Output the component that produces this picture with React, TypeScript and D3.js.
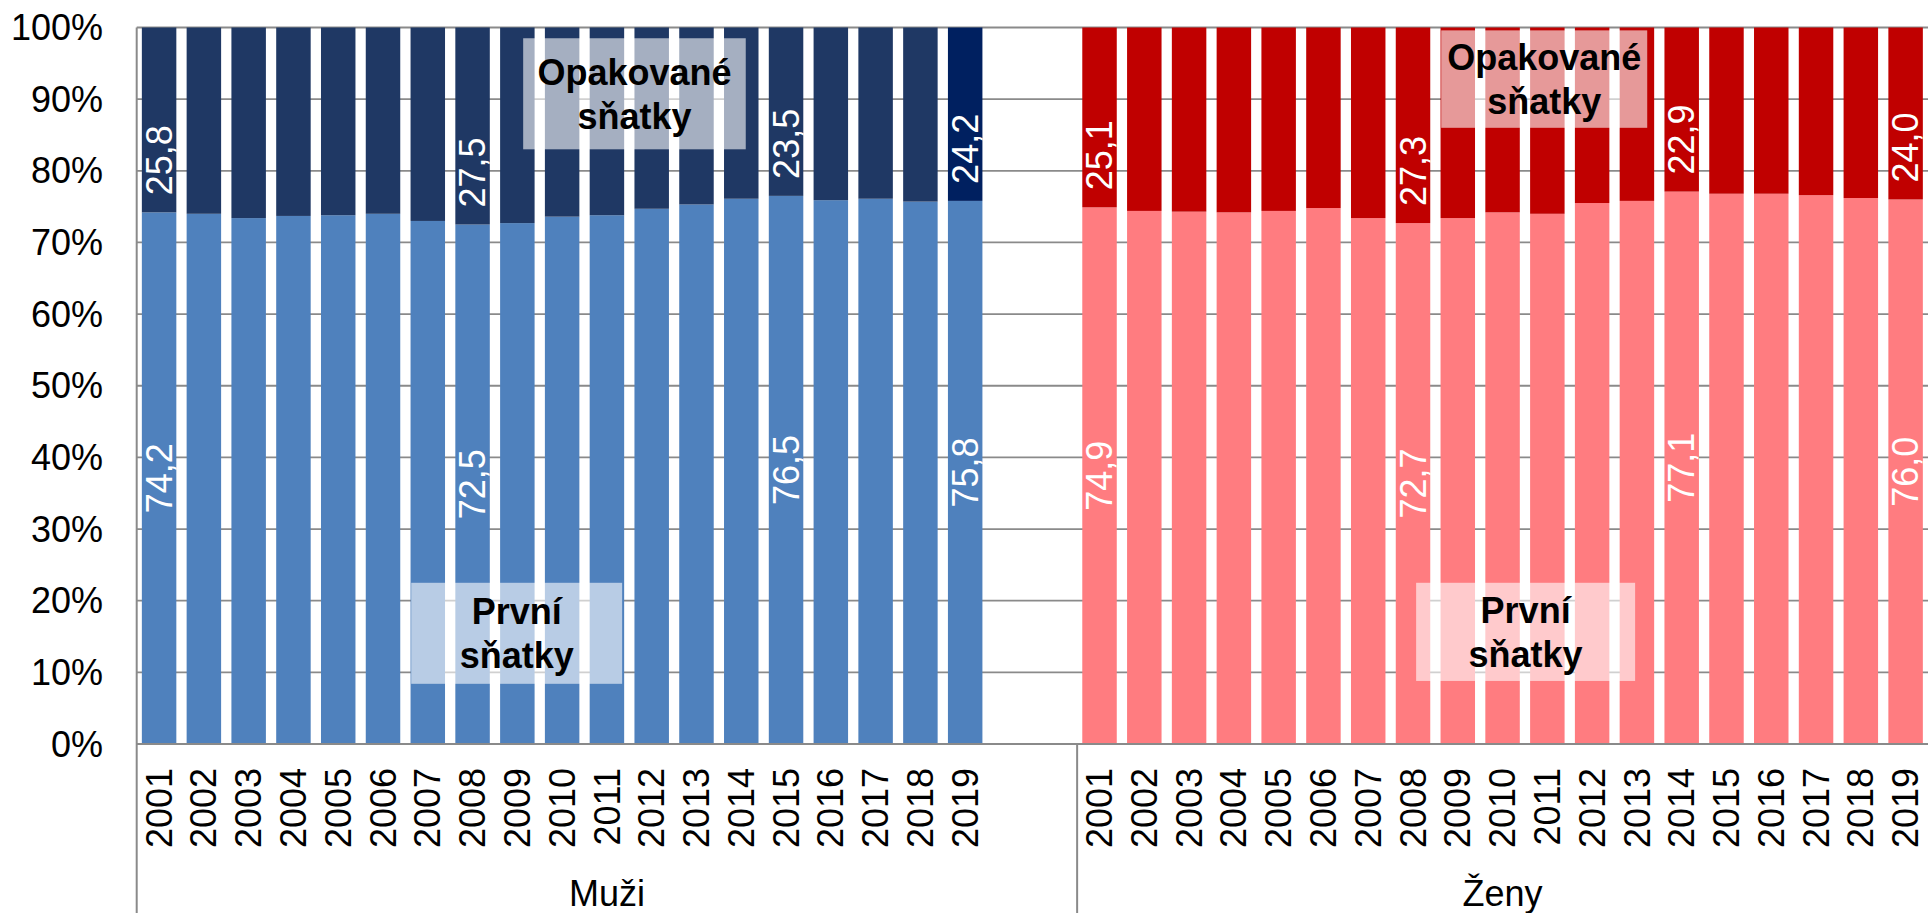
import React from 'react'
import * as d3 from 'd3'

// chart data (shares in %)
const years = ['2001', '2002', '2003', '2004', '2005', '2006', '2007', '2008', '2009', '2010',
  '2011', '2012', '2013', '2014', '2015', '2016', '2017', '2018', '2019']

const menFirst = [74.2, 74.0, 73.4, 73.7, 73.8, 74.0, 73.0, 72.5, 72.7, 73.6, 73.8, 74.7, 75.3, 76.1, 76.5, 75.9, 76.1, 75.7, 75.8]
const menRepeated = [25.8, 26.0, 26.6, 26.3, 26.2, 26.0, 27.0, 27.5, 27.3, 26.4, 26.2, 25.3, 24.7, 23.9, 23.5, 24.1, 23.9, 24.3, 24.2]
const womenFirst = [74.9, 74.4, 74.3, 74.2, 74.4, 74.8, 73.4, 72.7, 73.4, 74.2, 74.0, 75.5, 75.8, 77.1, 76.8, 76.8, 76.6, 76.2, 76.0]
const womenRepeated = [25.1, 25.6, 25.7, 25.8, 25.6, 25.2, 26.6, 27.3, 26.6, 25.8, 26.0, 24.5, 24.2, 22.9, 23.2, 23.2, 23.4, 23.8, 24.0]

const groups = ['Muži', 'Ženy']
const menLabelled = ['2001', '2008', '2015', '2019']
const womenLabelled = ['2001', '2008', '2014', '2019']
const yTicks = [0, 10, 20, 30, 40, 50, 60, 70, 80, 90, 100]

// annotation boxes: x in category index units, y in %
const notes = [
  { lines: ['Opakované', 'sňatky'], x0: 8.63, x1: 13.6, y0: 83.0, y1: 98.5 },
  { lines: ['První', 'sňatky'], x0: 6.13, x1: 10.84, y0: 8.4, y1: 22.5 },
  { lines: ['Opakované', 'sňatky'], x0: 29.13, x1: 33.73, y0: 86.0, y1: 99.6 },
  { lines: ['První', 'sňatky'], x0: 28.57, x1: 33.46, y0: 8.8, y1: 22.5 },
]

const W = 1928
const H = 913
const left = 136.7
const right = 1928
const top = 27.5
const bottom = 744
const font = 'Liberation Sans, Arial, sans-serif'

export default function App() {
  // 21 slots for men (two empty), 19 for women
  const keys = [
    ...years.map(y => 'M' + y), 'M_gap1', 'M_gap2',
    ...years.map(y => 'Z' + y),
  ]
  const x = d3.scaleBand<string>()
    .domain(keys)
    .range([left, right])
    .paddingInner(0.23)
    .paddingOuter(0.115)
  const step = x.step()
  const bw = x.bandwidth()
  const y = d3.scaleLinear().domain([0, 100]).range([bottom, top])

  const rows = years.map((yr, i) => ({ key: yr, first: menFirst[i], repeated: menRepeated[i] }))
  const rowsW = years.map((yr, i) => ({ key: yr, first: womenFirst[i], repeated: womenRepeated[i] }))
  const stack = d3.stack<any>().keys(['first', 'repeated'])
  const sm = stack(rows)
  const sw = stack(rowsW)

  const series = [
    { prefix: 'M', s: sm, colors: ['#4F81BD', '#1F3864'], last: '#002060', labelled: menLabelled },
    { prefix: 'Z', s: sw, colors: ['#FF7C80', '#C00000'], last: '#C00000', labelled: womenLabelled },
  ]

  const sepX = x('Z2001')! - (step - bw) / 2
  const groupCenters = [(left + sepX) / 2, (sepX + right) / 2]

  return (
    <svg width={W} height={H} style={{ position: 'absolute', left: 0, top: 0, background: '#fff' }}
      fontFamily={font}>
      {/* gridlines */}
      {yTicks.map(t => (
        <line key={'g' + t} x1={left} x2={right} y1={y(t)} y2={y(t)} stroke="#8a8a8a" strokeWidth={1.8} />
      ))}
      {/* bars */}
      {series.map(g => g.s.map((layer, li) => layer.map((d, i) => {
        const k = g.prefix + years[i]
        const fill = li === 1 && i === years.length - 1 ? g.last : g.colors[li]
        return (
          <rect key={k + li} x={x(k)} width={bw} y={y(d[1])} height={y(d[0]) - y(d[1])} fill={fill} />
        )
      })))}
      {/* value labels */}
      {series.map(g => g.s.map((layer, li) => layer.map((d, i) => {
        const yr = years[i]
        if (!g.labelled.includes(yr)) return null
        const k = g.prefix + yr
        const cx = x(k)! + bw / 2
        const v = d[1] - d[0]
        const txt = v.toFixed(1).replace('.', ',')
        if (li === 0) {
          const cy = y((d[0] + d[1]) / 2)
          return (
            <text key={'l' + k + li} transform={`translate(${cx},${cy}) rotate(-90)`} textAnchor="middle"
              dy="0.35em" fill="#fff" fontSize={36}>{txt}</text>
          )
        }
        const by = y(d[0]) - 17
        return (
          <text key={'l' + k + li} transform={`translate(${cx},${by}) rotate(-90)`} textAnchor="start"
            dy="0.35em" fill="#fff" fontSize={36}>{txt}</text>
        )
      })))}
      {/* annotation boxes */}
      {notes.map((n, i) => {
        const bx0 = left + n.x0 * step
        const bx1 = left + n.x1 * step
        const by0 = y(n.y1)
        const by1 = y(n.y0)
        const cx = (bx0 + bx1) / 2
        const cy = (by0 + by1) / 2
        return (
          <g key={'n' + i}>
            <rect x={bx0} y={by0} width={bx1 - bx0} height={by1 - by0} fill="#fff" fillOpacity={0.6} />
            <text x={cx} y={cy - 9} textAnchor="middle" fontWeight="bold" fontSize={36} fill="#000">{n.lines[0]}</text>
            <text x={cx} y={cy + 35} textAnchor="middle" fontWeight="bold" fontSize={36} fill="#000">{n.lines[1]}</text>
          </g>
        )
      })}
      {/* axes */}
      <line x1={left} x2={left} y1={top} y2={H} stroke="#8a8a8a" strokeWidth={2} />
      <line x1={left} x2={right} y1={bottom} y2={bottom} stroke="#8a8a8a" strokeWidth={2} />
      <line x1={sepX} x2={sepX} y1={bottom} y2={H} stroke="#8a8a8a" strokeWidth={2} />
      {yTicks.map(t => (
        <text key={'t' + t} x={103} y={y(t)} dy="0.35em" textAnchor="end" fontSize={36} fill="#000">{t}%</text>
      ))}
      {['M', 'Z'].map(p => years.map(yr => {
        const cx = x(p + yr)! + bw / 2
        return (
          <text key={'y' + p + yr} transform={`translate(${cx},${768}) rotate(-90)`} textAnchor="end"
            dy="0.35em" fontSize={36} fill="#000">{yr}</text>
        )
      }))}
      {groups.map((g, i) => (
        <text key={g} x={groupCenters[i]} y={906} textAnchor="middle" fontSize={36} fill="#000">{g}</text>
      ))}
    </svg>
  )
}
